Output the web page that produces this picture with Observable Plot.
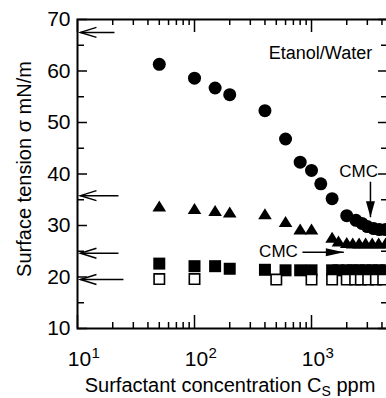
<!DOCTYPE html>
<html><head><meta charset="utf-8">
<script src="https://cdn.jsdelivr.net/npm/d3@7"></script>
<script src="https://cdn.jsdelivr.net/npm/@observablehq/plot@0.6"></script>
<style>html,body{margin:0;padding:0;overflow:hidden;background:#fff} svg{max-width:none !important}</style>
</head><body><div id="chart"></div>
<script>
// ---- data ----
const circleConc = [50,100,150,200,400,600,800,1000,1200,1500,2000,2400,2700,3000,3400,3800,4300];
const circleSigma = [61.3,58.6,56.7,55.4,52.3,46.8,42.3,40.7,38.1,35.2,31.9,31.0,30.4,29.8,29.4,29.2,29.2];
const triConc = [50,100,150,200,400,600,800,1000,1500,1700,2000,2250,2550,2900,3300,3750,4300];
const triSigma = [33.8,33.3,32.9,32.6,32.3,30.8,29.3,29.3,27.7,27.0,26.7,26.6,26.6,26.6,26.6,26.6,26.6];
const sqConc = [50,100,150,200,400,600,800,1000,1500,1700,2000,2250,2550,2900,3300,3750,4300];
const sqSigma = [22.6,22.1,22.1,21.6,21.4,21.3,21.3,21.3,21.3,21.3,21.3,21.3,21.3,21.3,21.3,21.3,21.3];
const openConc = [50,100,500,1000,1500,2000,2360,2640,3050,3550,4100];
const openSigma = [19.6,19.6,19.5,19.5,19.5,19.5,19.5,19.5,19.5,19.5,19.5];

// reference arrows at the left axis
const refLevels = [67.5, 35.8, 24.6, 19.5];
const refTails = [20.7, 22.4, 22.4, 24.7];
const refTip = 10.6;

// CMC annotations
const cmc1Text = {conc: 2525, sigma: 40.4};
const cmc1Arrow = {conc: 3190, from: 38.5, to: 31.6};
const cmc2Text = {conc: 522, sigma: 24.95};
const cmc2Arrow = {sigma: 24.8, from: 837, to: 1888};
const legendLabel = {conc: 1194, sigma: 63.5, text: "Etanol/Water"};

// axes
const xDomain = [10, 4550];
const yDomain = [10, 70];
const xMajor = [10, 100, 1000];
const xMinor = [20,30,40,50,60,70,80,90,200,300,400,500,600,700,800,900,2000,3000,4000];
const xTickBase = ["10","10","10"];
const xTickExp = ["1","2","3"];
const yMajor = [10,20,30,40,50,60,70];
const yMinor = [15,25,35,45,55,65];
const yTitle = "Surface tension σ mN/m";
const xTitleMain = "Surfactant concentration C";
const xTitleSub = "S";
const xTitleUnit = " ppm";

// ---- layout ----
const W = 388, H = 398, mL = 77, mR = 0, mT = 19, mB = 70;
const plotW = W - mL - mR, plotH = H - mT - mB;
const font = "Liberation Sans, Arial, Helvetica, sans-serif";

const circles = circleConc.map((c,i)=>({c, s: circleSigma[i]}));
const tris = triConc.map((c,i)=>({c, s: triSigma[i]}));
const squares = sqConc.map((c,i)=>({c, s: sqSigma[i]}));
const opens = openConc.map((c,i)=>({c, s: openSigma[i]}));
const refs = refLevels.map((s,i)=>({s, tail: refTails[i]}));

const triSymbol = {draw(ctx){ const hw=6.8, h=11; ctx.moveTo(0,-h/2); ctx.lineTo(hw,h/2); ctx.lineTo(-hw,h/2); ctx.closePath(); }};
const sqSymbol = {draw(ctx){ const a=6; ctx.rect(-a,-a,2*a,2*a); }};
const openSymbol = {draw(ctx){ const a=5.2; ctx.rect(-a,-a,2*a,2*a); }};
const chevron = {draw(ctx){ ctx.moveTo(-5,16); ctx.lineTo(0,0); ctx.lineTo(5,16); }};
const headDown = {draw(ctx){ ctx.moveTo(0,0); ctx.lineTo(-4.5,16); ctx.lineTo(4.5,16); ctx.closePath(); }};
const headRight = {draw(ctx){ ctx.moveTo(0,0); ctx.lineTo(-4,18); ctx.lineTo(4,18); ctx.closePath(); }};

const chart = Plot.plot({
  width: W, height: H,
  marginLeft: mL, marginRight: mR, marginTop: mT, marginBottom: mB,
  style: {fontFamily: font, color: "black", background: "white"},
  x: {type: "log", domain: xDomain, axis: null},
  y: {domain: yDomain, axis: null},
  marks: [
    // ticks (inward)
    Plot.ruleX(xMajor, {insetTop: plotH - 13, strokeWidth: 1.5}),
    Plot.ruleX(xMajor, {insetBottom: plotH - 13, strokeWidth: 1.5}),
    Plot.ruleX(xMinor, {insetTop: plotH - 6, strokeWidth: 1.5}),
    Plot.ruleX(xMinor, {insetBottom: plotH - 6, strokeWidth: 1.5}),
    Plot.ruleY(yMajor, {insetRight: plotW - 10, strokeWidth: 1.5}),
    Plot.ruleY(yMajor, {insetLeft: plotW - 10, strokeWidth: 1.5}),
    Plot.ruleY(yMinor, {insetRight: plotW - 7, strokeWidth: 1.5}),
    Plot.ruleY(yMinor, {insetLeft: plotW - 7, strokeWidth: 1.5}),
    Plot.frame({stroke: "black", strokeWidth: 2}),
    // tick labels
    Plot.text(yMajor, {y: d=>d, frameAnchor: "left", text: d=>String(d), textAnchor: "end", lineAnchor: "middle", dx: -7, fontSize: 21}),
    Plot.text(xMajor, {x: d=>d, frameAnchor: "bottom", text: (d,i)=>xTickBase[i], textAnchor: "middle", lineAnchor: "middle", dx: 2, dy: 31, fontSize: 21}),
    Plot.text(xMajor, {x: d=>d, frameAnchor: "bottom", text: (d,i)=>xTickExp[i], textAnchor: "start", lineAnchor: "middle", dx: 14, dy: 25, fontSize: 15}),
    // titles
    Plot.text([yTitle], {frameAnchor: "left", text: d=>d, rotate: -90, textAnchor: "middle", lineAnchor: "middle", dx: -53, dy: -5, fontSize: 20}),
    Plot.text([xTitleMain], {frameAnchor: "bottom", text: d=>d, textAnchor: "middle", lineAnchor: "middle", dx: -3, dy: 57.5, fontSize: 20}),
    // reference arrows
    Plot.link(refs, {x1: refTip, x2: "tail", y1: "s", y2: "s", stroke: "black", strokeWidth: 1.5}),
    Plot.dot(refs, {x: refTip, y: "s", symbol: chevron, rotate: -90, fill: "none", stroke: "black", strokeWidth: 1.5}),
    // data
    Plot.dot(circles, {x: "c", y: "s", r: 6.5, fill: "black", stroke: "none"}),
    Plot.dot(tris, {x: "c", y: "s", symbol: triSymbol, fill: "black", stroke: "none"}),
    Plot.dot(squares, {x: "c", y: "s", symbol: sqSymbol, fill: "black", stroke: "none"}),
    Plot.dot(opens, {x: "c", y: "s", symbol: openSymbol, fill: "white", stroke: "black", strokeWidth: 1.6}),
    // annotations
    Plot.text([legendLabel], {x: "conc", y: "sigma", text: "text", textAnchor: "middle", lineAnchor: "middle", fontSize: 18}),
    Plot.text([cmc1Text], {x: "conc", y: "sigma", text: ()=>"CMC", textAnchor: "middle", lineAnchor: "middle", fontSize: 17}),
    Plot.text([cmc2Text], {x: "conc", y: "sigma", text: ()=>"CMC", textAnchor: "middle", lineAnchor: "middle", fontSize: 17}),
    Plot.link([cmc1Arrow], {x1: "conc", x2: "conc", y1: "from", y2: "to", stroke: "black", strokeWidth: 1.5}),
    Plot.dot([cmc1Arrow], {x: "conc", y: "to", symbol: headDown, rotate: 180, fill: "black", stroke: "none"}),
    Plot.link([cmc2Arrow], {x1: "from", x2: "to", y1: "sigma", y2: "sigma", stroke: "black", strokeWidth: 1.5}),
    Plot.dot([cmc2Arrow], {x: "to", y: "sigma", symbol: headRight, rotate: 90, fill: "black", stroke: "none"})
  ]
});

// subscript in x title
d3.select(chart).selectAll("text").each(function(){
  if (this.textContent === xTitleMain) {
    const t = d3.select(this);
    t.append("tspan").attr("font-size", 14).attr("dy", 4).text(xTitleSub);
    t.append("tspan").attr("dy", -4).text(xTitleUnit);
  }
});
document.getElementById("chart").appendChild(chart);
</script>
</body></html>
